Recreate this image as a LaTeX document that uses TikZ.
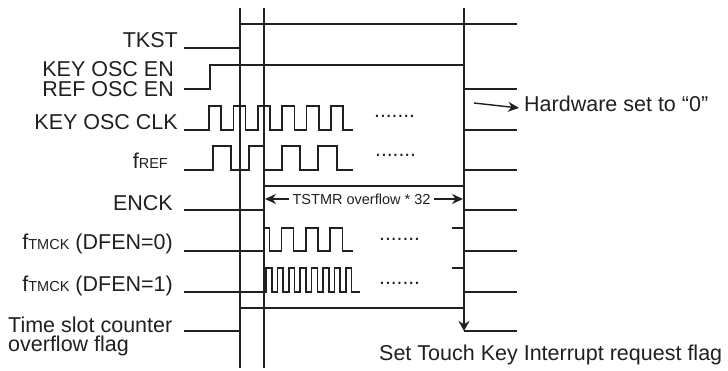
\documentclass[tikz,border=0pt]{standalone}
\usepackage{fontspec}
\setmainfont{Liberation Sans}
\usetikzlibrary{arrows.meta}
\definecolor{ink}{HTML}{231F20}
\newcommand\subtxt[1]{{\fontsize{14.5}{14.5}\selectfont #1}}
\begin{document}
\begin{tikzpicture}[x=1pt,y=-1pt,
  sig/.style={draw=ink, line width=1.6pt, line join=miter},
  guide/.style={draw=ink, line width=1.7pt},
  lbl/.style={inner sep=0pt, anchor=base east, text=ink, font=\fontsize{21.5}{21.5}\selectfont},
  lblw/.style={inner sep=0pt, anchor=base west, text=ink, font=\fontsize{21.5}{21.5}\selectfont},
  dotsnode/.style={inner sep=0pt, anchor=base west, text=ink, font=\fontsize{21}{21}\selectfont},
  tip/.style={-{Stealth[length=11pt,width=10pt]}}]
\useasboundingbox (0,0) rectangle (728,371);

% guide lines
\coordinate (g1t) at (240,8); \coordinate (g1b) at (240,368);
\coordinate (g2t) at (264,8); \coordinate (g2b) at (264,368);
\coordinate (g3t) at (464,8); \coordinate (g3b) at (464,331);
\draw[guide] (g1t) -- (g1b);
\draw[guide] (g2t) -- (g2b);
\draw[draw=ink, line width=2.2pt, -{Stealth[length=10pt,width=11pt]}] (g3t) -- (g3b);

% labels
\node[lbl] (lTKST) at (178,48) {TKST};
\node[lbl] (lKEN) at (174,77) {KEY OSC EN};
\node[lbl] (lREN) at (174,97) {REF OSC EN};
\node[lbl] (lKCLK) at (178,130) {KEY OSC CLK};
\node[lbl] (lFREF) at (168,169) {f\subtxt{REF}};
\node[lbl] (lENCK) at (173,211) {ENCK};
\node[lbl] (lT0) at (173,250) {f\subtxt{TMCK} (DFEN=0)};
\node[lbl] (lT1) at (173,291) {f\subtxt{TMCK} (DFEN=1)};
\node[lblw] (lTS1) at (8,332) {Time slot counter};
\node[lblw] (lTS2) at (8,351) {overflow flag};

% TKST
\draw[sig] (184,48) -- (240,48) -- (240,24) -- (517,24);
% KEY/REF OSC EN
\draw[sig] (184,89) -- (210,89) -- (210,65) -- (464,65) -- (464,89) -- (517,89);
% KEY OSC CLK
\draw[sig] (184,130) \foreach \i in {0,...,5} {
   -- ({209+24.4*\i},130) -- ({209+24.4*\i},106) -- ({221.2+24.4*\i},106) -- ({221.2+24.4*\i},130) } -- (353,130);
\draw[sig] (464,130) -- (517,130);
% fREF
\draw[sig] (184,170) -- (213,170) -- (213,146) -- (231,146) -- (231,170) -- (249,170) -- (249,146) -- (264,146) -- (264,170)
  -- (282,170) -- (282,146) -- (300,146) -- (300,170) -- (318,170) -- (318,146) -- (337,146) -- (337,170) -- (353,170);
\draw[sig] (464,170) -- (517,170);
% ENCK
\draw[sig] (184,210) -- (264,210) -- (264,186) -- (464,186) -- (464,210) -- (517,210);
% fTMCK DFEN=0
\draw[sig] (184,251) -- (264,251) -- (264,228) -- (269.4,228) -- (269.4,251) \foreach \i in {0,1,2} {
   -- ({281.4+24.4*\i},251) -- ({281.4+24.4*\i},228) -- ({293.6+24.4*\i},228) -- ({293.6+24.4*\i},251) } -- (353,251);
\draw[sig] (452,228) -- (464,228) -- (464,251) -- (517,251);
% fTMCK DFEN=1
\draw[sig] (184,292) -- (266,292) \foreach \i in {0,...,7} {
   -- ({266+11.4*\i},292) -- ({266+11.4*\i},268) -- ({271.7+11.4*\i},268) -- ({271.7+11.4*\i},292) } -- (360,292);
\draw[sig] (452,268) -- (464,268) -- (464,292) -- (517,292);
% time slot counter overflow flag
\draw[sig] (184,331) -- (240,331) -- (240,308) -- (464,308);
\draw[sig] (464,331) -- (517,331);

% dots
\node[dotsnode] (d1) at (374,118) {.......};
\node[dotsnode] (d2) at (375,157) {.......};
\node[dotsnode] (d3) at (379,241) {.......};
\node[dotsnode] (d4) at (379,284) {.......};

% TSTMR overflow
\node[inner sep=0pt, text=ink, font=\fontsize{14.5}{14.5}\selectfont] (tst) at (361.5,199) {TSTMR overflow * 32};
\coordinate (tstL) at (265,199);
\coordinate (tstR) at (463,199);
\draw[draw=ink, line width=1.4pt, tip] ([xshift=-3pt]tst.west) -- (tstL);
\draw[draw=ink, line width=1.4pt, tip] ([xshift=3pt]tst.east) -- (tstR);

% hardware set
\coordinate (hw0) at (474,103);
\node[lblw] (hw) at (524,112) {Hardware set to “0”};
\coordinate (hw1) at (519,108);
\draw[draw=ink, line width=1.4pt, tip] (hw0) -- (hw1);

\node[lblw] (stk) at (379,360) {Set Touch Key Interrupt request flag};
\end{tikzpicture}
\end{document}
